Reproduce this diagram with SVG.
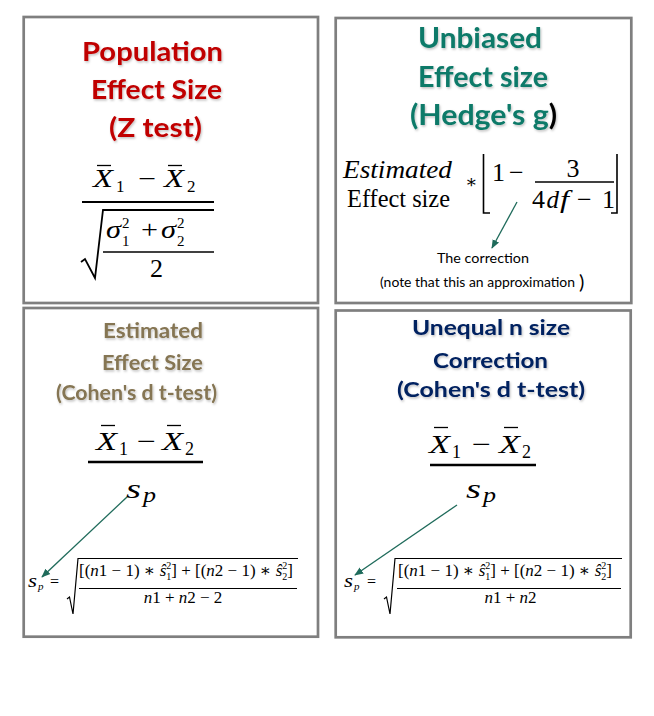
<svg xmlns="http://www.w3.org/2000/svg" width="654" height="716" viewBox="0 0 654 716">
<defs>
<style>
.box{fill:#fff;stroke:#7f7f7f;stroke-width:2.7}
.t{font-family:Lato,"Open Sans","Liberation Sans",sans-serif;font-weight:700;filter:url(#sh)}
.m{font-family:"Liberation Serif","DejaVu Serif",serif;fill:#000}
.i{font-style:italic}
.ln{stroke:#000;fill:none}
.arr{stroke:#1f6b5b;stroke-width:1.3;fill:none;marker-end:url(#ah)}
.lbl{font-family:Lato,"Open Sans","Liberation Sans",sans-serif;fill:#000}
</style>
<filter id="sh" x="-10%" y="-20%" width="130%" height="160%">
<feDropShadow dx="1" dy="1.5" stdDeviation="0.8" flood-color="#000" flood-opacity="0.25"/>
</filter>
<marker id="ah" viewBox="0 0 10 10" refX="9" refY="5" markerWidth="9" markerHeight="9" orient="auto" markerUnits="userSpaceOnUse">
<path d="M0,1 L10,5 L0,9 z" fill="#1f6b5b"/>
</marker>
</defs>
<rect x="0" y="0" width="654" height="716" fill="#fff"/>

<g id="node-population">
<rect class="box" x="23.7" y="17" width="294.3" height="286"/>
<text class="t" fill="#c00000" font-size="27" x="82" y="61" textLength="141" lengthAdjust="spacingAndGlyphs">Population</text>
<text class="t" fill="#c00000" font-size="27" x="91" y="99" textLength="131" lengthAdjust="spacingAndGlyphs">Effect Size</text>
<text class="t" fill="#c00000" font-size="27" x="109" y="137" textLength="93" lengthAdjust="spacingAndGlyphs">(Z test)</text>
<text class="m i" font-size="25" x="93" y="187" textLength="20" lengthAdjust="spacingAndGlyphs">X</text>
<text class="m" font-size="17" x="116" y="192">1</text>
<text class="m" font-size="25" x="138" y="187" textLength="18" lengthAdjust="spacingAndGlyphs">−</text>
<text class="m i" font-size="25" x="164" y="187" textLength="20" lengthAdjust="spacingAndGlyphs">X</text>
<text class="m" font-size="17" x="187" y="192">2</text>
<line class="ln" x1="97" y1="165.5" x2="111" y2="165.5" stroke-width="1.3"/>
<line class="ln" x1="168" y1="165.5" x2="182" y2="165.5" stroke-width="1.3"/>
<line class="ln" x1="82" y1="202" x2="214" y2="202" stroke-width="2"/>
<path class="ln" d="M81,262 L85,259 L95,278 L103,210 L214,210" stroke-width="1.8" stroke-linejoin="miter"/>
<text class="m i" font-size="26" x="106" y="238" textLength="15" lengthAdjust="spacingAndGlyphs">σ</text>
<text class="m" font-size="15" x="122" y="228">2</text>
<text class="m" font-size="15" x="122" y="246">1</text>
<text class="m" font-size="25" x="141" y="238" textLength="17" lengthAdjust="spacingAndGlyphs">+</text>
<text class="m i" font-size="26" x="161" y="238" textLength="15" lengthAdjust="spacingAndGlyphs">σ</text>
<text class="m" font-size="15" x="177" y="228">2</text>
<text class="m" font-size="15" x="177" y="246">2</text>
<line class="ln" x1="103" y1="252" x2="214" y2="252" stroke-width="1.5"/>
<text class="m" font-size="26" x="156.5" y="277" text-anchor="middle">2</text>
</g>

<g id="node-hedges">
<rect class="box" x="335.7" y="18" width="295.6" height="285"/>
<text class="t" fill="#0e7a69" font-size="28" x="418" y="48" textLength="124" lengthAdjust="spacingAndGlyphs">Unbiased</text>
<text class="t" fill="#0e7a69" font-size="28" x="418" y="87" textLength="130" lengthAdjust="spacingAndGlyphs">Effect size</text>
<text class="t" fill="#0e7a69" font-size="28" x="410" y="125" textLength="147" lengthAdjust="spacingAndGlyphs">(Hedge's g<tspan fill="#000">)</tspan></text>
<text class="m i" font-size="25" x="343" y="178" textLength="109" lengthAdjust="spacingAndGlyphs">Estimated</text>
<text class="m" font-size="25" x="347" y="207" textLength="103" lengthAdjust="spacingAndGlyphs">Effect size</text>
<text class="m" font-size="18" x="465" y="188">∗</text>
<path class="ln" d="M490,213 L483.5,213 L483.5,154" stroke-width="1.6"/>
<path class="ln" d="M611,213 L617,213 L617,154" stroke-width="1.6"/>
<text class="m" font-size="26" x="492" y="181">1</text>
<text class="m" font-size="26" x="509" y="181">−</text>
<text class="m" font-size="26" x="573" y="177" text-anchor="middle">3</text>
<line class="ln" x1="535" y1="182" x2="614" y2="182" stroke-width="1.5"/>
<text class="m" font-size="26" x="532" y="208">4</text>
<text class="m i" font-size="26" x="546.5" y="208" textLength="12.5" lengthAdjust="spacingAndGlyphs">d</text>
<text class="m i" font-size="26" x="560" y="208" textLength="9" lengthAdjust="spacingAndGlyphs">f</text>
<text class="m" font-size="26" x="577" y="208">−</text>
<text class="m" font-size="26" x="602" y="208">1</text>
<text class="lbl" x="437" y="263" font-size="14" textLength="92" lengthAdjust="spacingAndGlyphs">The correction</text>
<text class="lbl" x="380" y="287" font-size="13" textLength="195" lengthAdjust="spacingAndGlyphs">(note that this an approximation</text>
<text class="lbl" x="579" y="289" font-size="20">)</text>
</g>

<g id="node-cohen">
<rect class="box" x="23.7" y="308" width="294.3" height="328.7"/>
<text class="t" fill="#857552" font-size="21" x="103" y="338" textLength="100" lengthAdjust="spacingAndGlyphs">Estimated</text>
<text class="t" fill="#857552" font-size="21" x="102" y="370" textLength="101" lengthAdjust="spacingAndGlyphs">Effect Size</text>
<text class="t" fill="#857552" font-size="21" x="56" y="400" textLength="161" lengthAdjust="spacingAndGlyphs">(Cohen's d t-test)</text>
<text class="m i" font-size="26" x="96" y="450" textLength="21" lengthAdjust="spacingAndGlyphs">X</text>
<text class="m" font-size="18" x="119" y="455">1</text>
<text class="m" font-size="26" x="137" y="450" textLength="19" lengthAdjust="spacingAndGlyphs">−</text>
<text class="m i" font-size="26" x="162" y="450" textLength="21" lengthAdjust="spacingAndGlyphs">X</text>
<text class="m" font-size="18" x="185" y="455">2</text>
<line class="ln" x1="101" y1="425.5" x2="115" y2="425.5" stroke-width="1.3"/>
<line class="ln" x1="167" y1="425.5" x2="181" y2="425.5" stroke-width="1.3"/>
<line class="ln" x1="88" y1="462" x2="203" y2="462" stroke-width="2.5"/>
<text class="m i" font-size="28" x="126" y="498" textLength="15" lengthAdjust="spacingAndGlyphs">s</text>
<text class="m i" font-size="20" x="143" y="502" textLength="13" lengthAdjust="spacingAndGlyphs">p</text>
<text class="m i" font-size="18" x="28" y="587" textLength="9" lengthAdjust="spacingAndGlyphs">s</text>
<text class="m i" font-size="11" x="38" y="590">p</text>
<text class="m" font-size="16" x="50" y="587">=</text>
<path class="ln" d="M67,599 L69.5,597 L73,614 L78,558.5 L298,558.5" stroke-width="1.2"/>
<text class="m" font-size="17" y="576"><tspan x="79">[(</tspan><tspan class="i">n</tspan>1 − 1) ∗ <tspan class="i">ŝ</tspan><tspan font-size="10" dy="4">1</tspan><tspan font-size="10" dx="-5" dy="-11.5">2</tspan><tspan dy="7.5">] + [(</tspan><tspan class="i">n</tspan>2 − 1) ∗ <tspan class="i">ŝ</tspan><tspan font-size="10" dy="4">2</tspan><tspan font-size="10" dx="-5" dy="-11.5">2</tspan><tspan dy="7.5">]</tspan></text>
<line class="ln" x1="79" y1="588.5" x2="297" y2="588.5" stroke-width="1"/>
<text class="m" font-size="17" x="183" y="603" text-anchor="middle"><tspan class="i">n</tspan>1 + <tspan class="i">n</tspan>2 − 2</text>
</g>

<g id="node-unequal">
<rect class="box" x="335.7" y="310.5" width="295" height="326.8"/>
<text class="t" fill="#002060" font-size="21" x="412" y="335" textLength="158" lengthAdjust="spacingAndGlyphs">Unequal n size</text>
<text class="t" fill="#002060" font-size="21" x="433" y="368" textLength="115" lengthAdjust="spacingAndGlyphs">Correction</text>
<text class="t" fill="#002060" font-size="21" x="397" y="397" textLength="188" lengthAdjust="spacingAndGlyphs">(Cohen's d t-test)</text>
<text class="m i" font-size="26" x="429" y="453" textLength="21" lengthAdjust="spacingAndGlyphs">X</text>
<text class="m" font-size="18" x="452" y="458">1</text>
<text class="m" font-size="26" x="472" y="453" textLength="19" lengthAdjust="spacingAndGlyphs">−</text>
<text class="m i" font-size="26" x="499" y="453" textLength="21" lengthAdjust="spacingAndGlyphs">X</text>
<text class="m" font-size="18" x="522" y="458">2</text>
<line class="ln" x1="434" y1="427.5" x2="448" y2="427.5" stroke-width="1.3"/>
<line class="ln" x1="504" y1="427.5" x2="518" y2="427.5" stroke-width="1.3"/>
<line class="ln" x1="430" y1="465" x2="536" y2="465" stroke-width="2.5"/>
<text class="m i" font-size="28" x="466" y="498" textLength="15" lengthAdjust="spacingAndGlyphs">s</text>
<text class="m i" font-size="20" x="483" y="502" textLength="13" lengthAdjust="spacingAndGlyphs">p</text>
<text class="m i" font-size="18" x="344" y="587" textLength="9" lengthAdjust="spacingAndGlyphs">s</text>
<text class="m i" font-size="11" x="354" y="590">p</text>
<text class="m" font-size="16" x="367" y="587">=</text>
<path class="ln" d="M384,599 L386.5,597 L390,614 L395,558.5 L622,558.5" stroke-width="1.2"/>
<text class="m" font-size="17" y="576"><tspan x="398">[(</tspan><tspan class="i">n</tspan>1 − 1) ∗ <tspan class="i">ŝ</tspan><tspan font-size="10" dy="4">1</tspan><tspan font-size="10" dx="-5" dy="-11.5">2</tspan><tspan dy="7.5">] + [(</tspan><tspan class="i">n</tspan>2 − 1) ∗ <tspan class="i">ŝ</tspan><tspan font-size="10" dy="4">2</tspan><tspan font-size="10" dx="-5" dy="-11.5">2</tspan><tspan dy="7.5">]</tspan></text>
<line class="ln" x1="397" y1="588.5" x2="621" y2="588.5" stroke-width="1"/>
<text class="m" font-size="17" x="510.5" y="603" text-anchor="middle"><tspan class="i">n</tspan>1 + <tspan class="i">n</tspan>2</text>
</g>

<g id="connectors">
<line class="arr" x1="517" y1="202" x2="492" y2="248"/>
<line class="arr" x1="127" y1="497" x2="42" y2="577"/>
<line class="arr" x1="457" y1="505" x2="355" y2="575"/>
</g>
</svg>
